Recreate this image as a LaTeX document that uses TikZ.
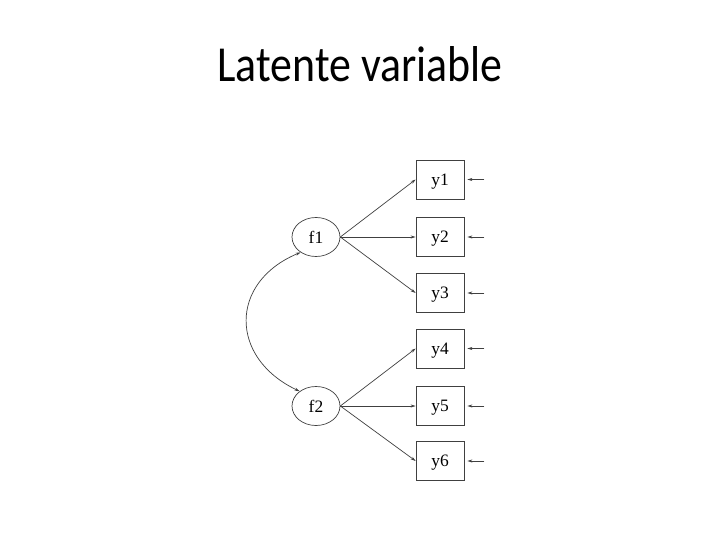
\documentclass[tikz,border=0pt]{standalone}
\usepackage{fontspec}
\setmainfont{Liberation Serif}
\newfontfamily\titlefont{Carlito}
\usetikzlibrary{arrows.meta,shapes.geometric}
\begin{document}
\begin{tikzpicture}[x=1bp,y=-1bp,
  obs/.style={draw=black!75,line width=0.7bp,minimum width=48bp,minimum height=39bp,inner sep=0pt,text depth=0pt,font=\fontsize{17.5}{17.5}\selectfont},
  lat/.style={draw=black!75,line width=0.7bp,ellipse,minimum width=48bp,minimum height=39bp,inner sep=0pt,text depth=0pt,font=\fontsize{17.5}{17.5}\selectfont},
  conn/.style={draw=black!75,line width=0.7bp,-{Stealth[length=5bp,width=3bp]}},
  dconn/.style={draw=black!75,line width=0.7bp,{Stealth[length=5bp,width=3bp]}-{Stealth[length=5bp,width=3bp]}}]
\useasboundingbox (0,0) rectangle (720,540);
\fill[white] (0,0) rectangle (720,540);
\node[font=\titlefont\fontsize{44}{44}\selectfont,anchor=base,yscale=1.15,transform shape,inner sep=0pt] (title) at (360,82) {Latente variable};
\node[lat] (f1) at (316,237) {f1};
\node[lat] (f2) at (316,406) {f2};
\node[obs] (y1) at (440,179.5) {y1};
\node[obs] (y2) at (440,237) {y2};
\node[obs] (y3) at (440,293) {y3};
\node[obs] (y4) at (440,348.5) {y4};
\node[obs] (y5) at (440,406) {y5};
\node[obs] (y6) at (440,461) {y6};
\foreach \i in {1,2,3} \draw[conn] (f1.east) -- (y\i.west);
\foreach \i in {4,5,6} \draw[conn] (f2.east) -- (y\i.west);
\foreach \i in {1,...,6} {
  \coordinate (e\i) at ([xshift=20bp]y\i.east);
  \draw[conn] (e\i) -- ([xshift=3bp]y\i.east);
}
\draw[dconn] (f1.225) .. controls (229,282) and (229,358) .. (f2.138);
\end{tikzpicture}
\end{document}
